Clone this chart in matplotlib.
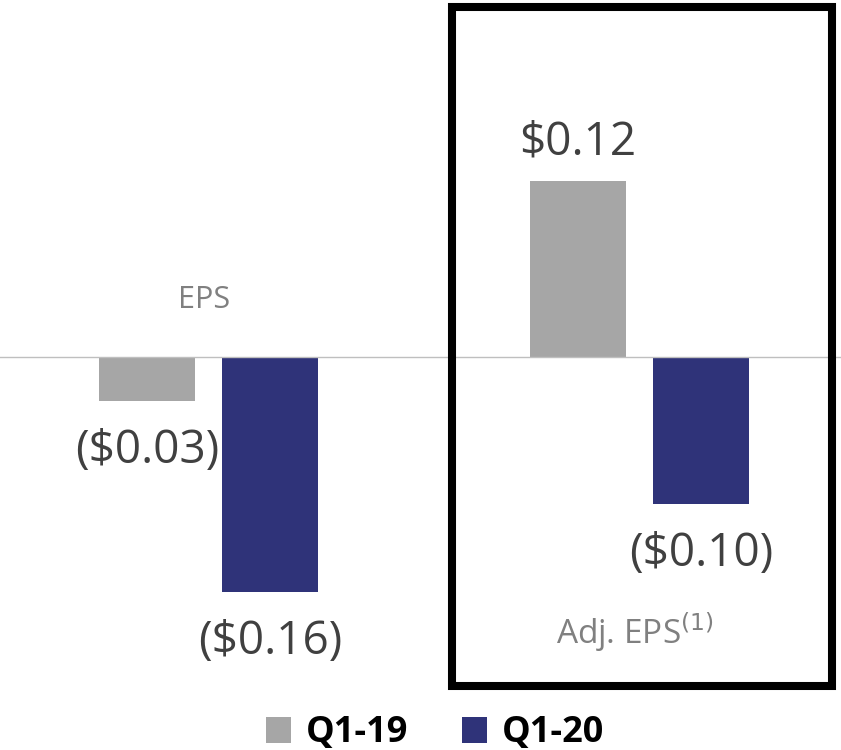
import numpy as np
import matplotlib.pyplot as plt
from matplotlib.patches import Rectangle, Patch

plt.rcParams['font.family'] = ['Open Sans', 'DejaVu Sans']

groups = ['EPS', 'Adj. EPS$^{(1)}$']
periods = ['Q1-19', 'Q1-20']
q1_19 = [-0.03, 0.12]
q1_20 = [-0.16, -0.10]
colors = ['#A6A6A6', '#2F3379']


def fmt(v):
    # negative values shown in parentheses
    return '(${:.2f})'.format(-v) if v < 0 else '${:.2f}'.format(v)


fig = plt.figure(figsize=(8.41, 7.5), dpi=100)
ax = fig.add_axes([0, 0, 1, 1])

x = np.arange(len(groups))
w = 0.223
off = 0.143

for vals, dx, c in [(q1_19, -off, colors[0]), (q1_20, off, colors[1])]:
    ax.bar(x + dx, vals, width=w, color=c)
    for xi, v in zip(x + dx, vals):
        dy = 28 if v >= 0 else -36
        ax.annotate(fmt(v), (xi, v), xytext=(0, dy), textcoords='offset points',
                    ha='center', va='center', fontsize=33, color='#404040')

ax.axhline(0, color='#BFBFBF', lw=1)

ax.text(x[0] - 0.01, 0.039, groups[0], ha='center', va='center', fontsize=22, color='#808080')
ax.text(x[1] - 0.01, -0.188, groups[1], ha='center', va='center', fontsize=24, color='#808080')

ax.set_xlim(-0.484, 1.4675)
ax.set_ylim(-0.268, 0.2437)
ax.axis('off')

# highlight frame around the adjusted figures
fig.patches.append(Rectangle((452 / 841, 64.5 / 750), 380 / 841, 678.5 / 750,
                             transform=fig.transFigure, fill=False,
                             edgecolor='black', lw=5.8))

handles = [Patch(facecolor=c) for c in colors]
leg = fig.legend(handles, periods, loc='center', bbox_to_anchor=(0.517, 0.022), ncol=2,
                 frameon=False, prop={'weight': 'bold', 'size': 26, 'family': ['Open Sans']},
                 handlelength=0.7, handleheight=0.7, handletextpad=0.4, columnspacing=1.5)

fig.savefig('out.png', dpi=100)
